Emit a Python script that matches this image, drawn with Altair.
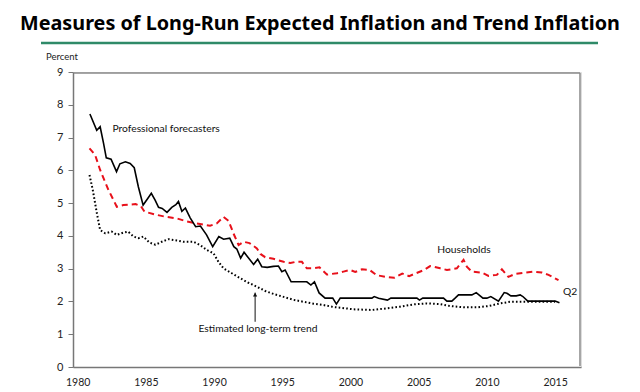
import altair as alt
import pandas as pd

# ---- data ----
pro_years = [1980.9, 1981.4, 1981.65, 1981.9, 1982.1, 1982.45, 1982.85, 1983.1, 1983.5, 1983.85,
             1984.15, 1984.45, 1984.8, 1985.1, 1985.4, 1985.68, 1985.93, 1986.2, 1986.55, 1986.9,
             1987.2, 1987.39, 1987.64, 1987.9, 1988.25, 1988.65, 1989.0, 1989.45, 1989.9, 1990.35,
             1990.7, 1991.15, 1991.45, 1991.67, 1991.95, 1992.2, 1992.9, 1993.2, 1993.5, 1993.9,
             1994.35, 1994.72, 1994.97, 1995.21, 1995.65, 1996.8, 1997.1, 1997.36, 1997.7, 1998.14,
             1998.7, 1998.97, 1999.25, 2001.57, 2001.74, 2002.06, 2002.71, 2002.96, 2004.87, 2005.06,
             2005.3, 2006.82, 2007.07, 2007.43, 2007.67, 2007.92, 2008.9, 2009.22, 2009.71, 2010.0,
             2010.29, 2010.85, 2011.27, 2011.47, 2011.76, 2012.15, 2012.44, 2012.64, 2013.0, 2015.0,
             2015.32]
pro_values = [7.72, 7.22, 7.33, 6.82, 6.38, 6.34, 5.96, 6.2, 6.26, 6.21,
              6.08, 5.5, 4.94, 5.12, 5.3, 5.09, 4.87, 4.84, 4.72, 4.87,
              4.95, 5.05, 4.75, 4.85, 4.55, 4.28, 4.3, 4.03, 3.67, 3.98,
              3.9, 3.93, 3.67, 3.6, 3.32, 3.5, 3.13, 3.29, 3.06, 3.04,
              3.07, 3.08, 2.91, 2.96, 2.6, 2.6, 2.5, 2.6, 2.26, 2.1,
              2.1, 1.92, 2.1, 2.1, 2.15, 2.1, 2.04, 2.1, 2.1, 2.04,
              2.1, 2.1, 2.01, 2.01, 2.1, 2.2, 2.2, 2.27, 2.1, 2.1,
              2.15, 2.01, 2.27, 2.25, 2.17, 2.17, 2.2, 2.15, 2.01, 2.01,
              1.96]

hh_years = [1980.87, 1981.28, 1981.65, 1982.26, 1982.87, 1983.36, 1984.25, 1984.63, 1984.9, 1985.8,
            1986.5, 1987.3, 1988.0, 1988.74, 1989.71, 1990.2, 1990.69, 1991.06, 1991.45, 1991.8,
            1992.16, 1992.6, 1993.14, 1993.4, 1993.75, 1994.35, 1995.1, 1995.6, 1996.0, 1996.44,
            1996.8, 1997.25, 1997.73, 1998.27, 1999.0, 1999.49, 1999.98, 2000.35, 2000.84, 2001.4,
            2001.93, 2002.6, 2003.2, 2003.8, 2004.3, 2004.8, 2005.4, 2005.84, 2006.1, 2006.58,
            2007.07, 2007.8, 2008.29, 2008.53, 2008.9, 2009.63, 2010.12, 2010.73, 2011.1, 2011.58,
            2012.08, 2012.81, 2013.42, 2014.03, 2014.52, 2015.25]
hh_values = [6.67, 6.47, 6.01, 5.4, 4.89, 4.94, 4.97, 4.91, 4.74, 4.64,
             4.58, 4.53, 4.44, 4.38, 4.31, 4.38, 4.58, 4.46, 4.05, 3.72,
             3.82, 3.78, 3.62, 3.45, 3.35, 3.3, 3.21, 3.17, 3.21, 3.21,
             3.01, 3.01, 3.04, 2.82, 2.86, 2.91, 2.96, 2.9, 2.98, 2.96,
             2.8, 2.75, 2.72, 2.85, 2.77, 2.86, 2.96, 3.08, 3.06, 3.01,
             2.96, 3.01, 3.27, 3.06, 2.91, 2.88, 2.78, 2.81, 2.98, 2.75,
             2.84, 2.88, 2.91, 2.88, 2.81, 2.65]

trend_years = [1980.87, 1981.11, 1981.41, 1981.65, 1982.02, 1982.5, 1982.87, 1983.36, 1983.7, 1984.1,
               1984.46, 1984.82, 1985.25, 1985.7, 1986.17, 1986.66, 1987.27, 1987.76, 1988.49, 1988.98,
               1989.47, 1989.96, 1990.32, 1990.69, 1991.3, 1991.91, 1992.52, 1993.14, 1993.75, 1994.35,
               1995.09, 1995.82, 1996.55, 1997.29, 1998.02, 1998.75, 1999.24, 2000.22, 2001.57, 2002.67,
               2003.64, 2004.62, 2005.6, 2006.58, 2007.31, 2008.29, 2009.27, 2010.12, 2010.98, 2011.71,
               2012.93, 2013.91, 2015.0]
trend_values = [5.86, 5.4, 4.69, 4.18, 4.08, 4.13, 4.03, 4.1, 4.13, 3.98,
                3.93, 3.98, 3.8, 3.73, 3.82, 3.9, 3.86, 3.82, 3.82, 3.72,
                3.57, 3.47, 3.21, 3.01, 2.86, 2.71, 2.57, 2.45, 2.32, 2.23,
                2.14, 2.05, 1.99, 1.93, 1.89, 1.83, 1.81, 1.76, 1.74, 1.79,
                1.84, 1.91, 1.94, 1.92, 1.86, 1.82, 1.82, 1.86, 1.94, 1.99,
                1.99, 1.99, 1.99]

x_ticks = [1980, 1985, 1990, 1995, 2000, 2005, 2010, 2015]
y_ticks = [0, 1, 2, 3, 4, 5, 6, 7, 8, 9]
x_domain = [1979.66, 2016.9]
y_domain = [0, 9]

label_texts = ["Professional forecasters", "Households", "Q2", "Estimated long-term trend"]
label_years = [1982.55, 2008.32, 2016.1, 1988.86]
label_values = [7.25, 3.57, 2.29, 1.16]
label_align = ["left", "center", "center", "left"]

arrow_year = [1993.01]
arrow_from = [1.38]
arrow_to = [2.27]

title_text = "Measures of Long-Run Expected Inflation and Trend Inflation"

FONT = "Lato"
W, H = 508, 295

xs = alt.Scale(domain=x_domain, nice=False, zero=False)
ys = alt.Scale(domain=y_domain, nice=False, zero=False)

pro = pd.DataFrame({"year": pro_years, "value": pro_values})
hh = pd.DataFrame({"year": hh_years, "value": hh_values})
tr = pd.DataFrame({"year": trend_years, "value": trend_values})

x_axis = alt.Axis(values=x_ticks, format="d", title=None, ticks=False, grid=False,
                  labelPadding=10, labelFont=FONT, labelFontSize=10.5, labelOverlap=False,
                  labelColor="#222", domainColor="#777", domainWidth=1.5)
y_axis = alt.Axis(values=y_ticks, title=None, grid=False, tickSize=5, labelOverlap=False,
                  tickColor="#777", labelPadding=5, labelFont=FONT, labelFontSize=11,
                  labelColor="#222", domainColor="#777", domainWidth=1.5)


def X(field):
    return alt.X(field, scale=xs, axis=x_axis)


def Y(field):
    return alt.Y(field, scale=ys, axis=y_axis)


hh_line = alt.Chart(hh).mark_line(color="#e8101a", strokeWidth=2, strokeDash=[6, 4]).encode(
    x=X("year:Q"), y=Y("value:Q"))
tr_line = alt.Chart(tr).mark_line(color="#000", strokeWidth=2, strokeDash=[1.6, 2.2]).encode(
    x=X("year:Q"), y=Y("value:Q"))
pro_line = alt.Chart(pro).mark_line(color="#000", strokeWidth=1.6).encode(
    x=X("year:Q"), y=Y("value:Q"))

labels_df = pd.DataFrame({"t": label_texts, "year": label_years, "value": label_values, "al": label_align})
lab_left = alt.Chart(labels_df[labels_df.al == "left"]).mark_text(
    align="left", baseline="middle", font=FONT, fontSize=10.3, color="#111").encode(
    x=X("year:Q"), y=Y("value:Q"), text="t:N")
lab_center = alt.Chart(labels_df[labels_df.al == "center"]).mark_text(
    align="center", baseline="middle", font=FONT, fontSize=10.3, color="#111").encode(
    x=X("year:Q"), y=Y("value:Q"), text="t:N")

arrow_df = pd.DataFrame({"year": arrow_year, "v0": arrow_from, "v1": arrow_to})
arrow_rule = alt.Chart(arrow_df).mark_rule(color="#111", strokeWidth=1).encode(
    x=X("year:Q"), y=Y("v0:Q"), y2="v1:Q")
arrow_head = alt.Chart(arrow_df).mark_point(shape="triangle-up", filled=True, color="#111",
                                            size=18, opacity=1, yOffset=2).encode(
    x=X("year:Q"), y=Y("v1:Q"))

deco = pd.DataFrame({"t": [title_text]})
title = alt.Chart(deco).mark_text(
    align="center", baseline="alphabetic", font="Noto Sans", fontWeight="bold",
    fontSize=19.8, color="#000").encode(
    x=alt.value(247), y=alt.value(-42.5), text="t:N")
pct = alt.Chart(pd.DataFrame({"t": ["Percent"]})).mark_text(
    align="left", baseline="middle", font=FONT, fontSize=9.5, color="#222").encode(
    x=alt.value(-27), y=alt.value(-15), text="t:N")
green = alt.Chart(deco).mark_rule(color="#2f8a68", strokeWidth=2.5).encode(
    x=alt.value(-32), x2=alt.value(525), y=alt.value(-29))

# plot frame (top and right edges), drawn one pixel inside the plot edge
frame_top = alt.Chart(deco).mark_rule(color="#888", strokeWidth=1.5).encode(
    x=alt.value(1), x2=alt.value(W - 1), y=alt.value(1))
frame_right = alt.Chart(deco).mark_rule(color="#888", strokeWidth=1.5).encode(
    x=alt.value(W - 1), y=alt.value(1), y2=alt.value(H - 1))

chart = alt.layer(hh_line, tr_line, pro_line, lab_left, lab_center,
                  arrow_rule, arrow_head, title, pct, green, frame_top, frame_right).properties(
    width=W, height=H,
    background="white",
    autosize=alt.AutoSizeParams(type="none"),
    padding={"left": 65, "top": 64, "right": 51, "bottom": 20},
)

chart.save("out.html", embed_options={"renderer": "svg", "actions": False})
